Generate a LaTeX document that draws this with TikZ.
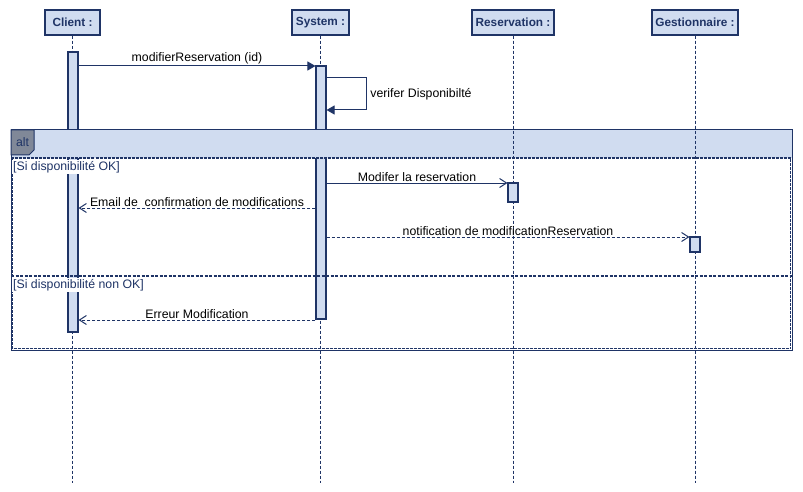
\documentclass[tikz,border=0pt]{standalone}
\usepackage{fontspec}
\setmainfont{Liberation Sans}
\usepackage{tikz}
\usetikzlibrary{arrows.meta}
\usetikzlibrary{calc}
\definecolor{LineBlue}{RGB}{31,52,102}
\definecolor{FillBlue}{RGB}{208,220,240}
\definecolor{TabGray}{RGB}{128,136,152}

\begin{document}
\begin{tikzpicture}[x=1pt,y=-1pt,
    every node/.style={font=\fontsize{12.3}{14}\selectfont},
    head/.style={draw=LineBlue,fill=FillBlue,line width=1.2pt,minimum height=25pt,inner sep=0pt,text=LineBlue,font=\fontsize{11.8}{14}\selectfont\bfseries},
    actbar/.style={draw=LineBlue,fill=FillBlue,line width=1.1pt,minimum width=10pt,inner sep=0pt},
    life/.style={draw=LineBlue,line width=0.8pt,dash pattern=on 3pt off 2pt},
    sync/.style={draw=LineBlue,line width=1pt,-{Triangle[length=8pt,width=9pt]}},
    call/.style={draw=LineBlue,line width=1pt,-{Straight Barb[length=7pt,width=9pt]}},
    reply/.style={call,dash pattern=on 3pt off 2pt},
    msg/.style={above,inner sep=1pt},
    guard/.style={anchor=west,fill=white,inner sep=1pt,text=LineBlue}]
      \useasboundingbox (0,0) rectangle (803,492);
      % participants
      \node[head,minimum width=55pt] (cli) at (72.5,22.5) {Client :};
      \node[head,minimum width=57pt] (sys) at (320.5,22.5) {System :};
      \node[head,minimum width=82pt] (res) at (513,22.5) {Reservation :};
      \node[head,minimum width=86pt] (ges) at (695,22.5) {Gestionnaire :};
      \foreach \n in {cli,sys,res,ges} \draw[life] (\n.south) -- ++(0,447);
      \node[actbar,minimum height=280pt] (cliact) at (73,192) {};
      \node[actbar,minimum height=253pt] (sysact) at (321,192.5) {};
      % alt frame
      \fill[FillBlue] (11,130) rectangle (792,158);
      \foreach \n in {res,ges} \draw[life] (\n.south) -- ++(0,447);
      \draw[LineBlue,line width=1pt] (11,130) rectangle (792,350);
      \draw[LineBlue,line width=1.2pt,dash pattern=on 3pt off 1pt] (12.3,158) rectangle (790.7,348.7);
      \draw[LineBlue,line width=1.6pt,dash pattern=on 3pt off 1.5pt] (11,276) -- (792,276);
      \draw[LineBlue,fill=TabGray,line width=1pt] (11,130) -- (34,130) -- (34,150) -- (29,155) -- (11,155) -- cycle;
      \node[text=LineBlue] (alttab) at (22.5,142) {alt};
      \node[guard] (okg) at (12,167) {[Si disponibilité OK]};
      \node[guard] (nokg) at (12,285) {[Si disponibilité non OK]};
      \node[actbar,minimum height=19pt] (resact) at (513,192.5) {};
      \node[actbar,minimum height=15pt] (gesact) at (695,244.5) {};
      % messages
      \coordinate (m1) at (0,66);
      \coordinate (m2) at (0,78);
      \coordinate (m3) at (0,110);
      \coordinate (m4) at (0,183);
      \coordinate (m5) at (0,208);
      \coordinate (m6) at (0,237);
      \coordinate (m7) at (0,320);
      \draw[sync] (cliact.east |- m1) -- node[msg] {modifierReservation (id)} (sysact.west |- m1);
      \draw[sync] (sysact.east |- m2) -- ++(40,0) |- node[pos=0.25,right] {verifer Disponibilté} (sysact.east |- m3);
      \draw[call] (sysact.east |- m4) -- node[msg] {Modifer la reservation} (resact.west |- m4);
      \draw[reply] (sysact.west |- m5) -- node[msg] {Email de\ \ confirmation de modifications} (cliact.east |- m5);
      \draw[reply] (sysact.east |- m6) -- node[msg] {notification de modificationReservation} (gesact.west |- m6);
      \draw[reply] (sysact.west |- m7) -- node[msg] {Erreur Modification} (cliact.east |- m7);
    \end{tikzpicture}
\end{document}
